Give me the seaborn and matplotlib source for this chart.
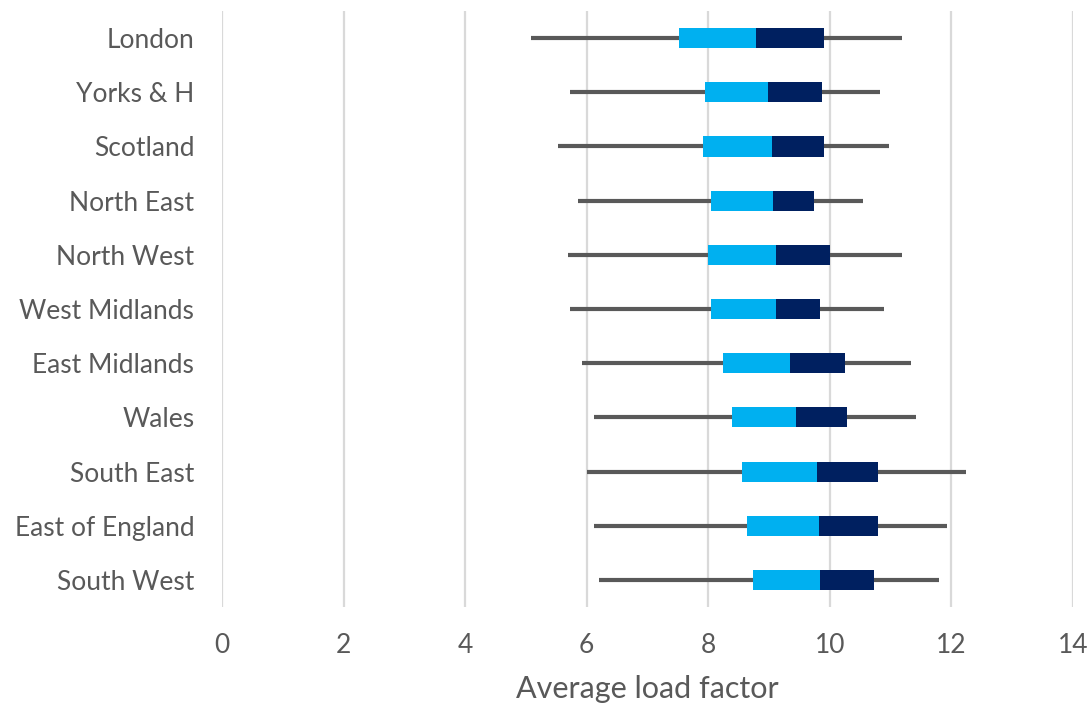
import matplotlib
matplotlib.use("Agg")
import matplotlib.pyplot as plt
import seaborn as sns
import pandas as pd

# Valeurs
regions = [
    "London", "Yorks & H", "Scotland", "North East", "North West",
    "West Midlands", "East Midlands", "Wales", "South East",
    "East of England", "South West",
]
whisker_low = [5.08, 5.73, 5.53, 5.86, 5.69, 5.73, 5.92, 6.12, 6.01, 6.12, 6.21]
q1 = [7.51, 7.95, 7.92, 8.05, 8.00, 8.05, 8.24, 8.39, 8.55, 8.63, 8.73]
median = [8.78, 8.99, 9.04, 9.07, 9.12, 9.12, 9.35, 9.45, 9.79, 9.82, 9.84]
q3 = [9.90, 9.87, 9.90, 9.74, 10.00, 9.84, 10.25, 10.28, 10.80, 10.80, 10.72]
whisker_high = [11.18, 10.82, 10.97, 10.55, 11.18, 10.89, 11.33, 11.41, 12.24, 11.92, 11.80]

df = pd.DataFrame({
    "region": regions, "low": whisker_low, "q1": q1,
    "median": median, "q3": q3, "high": whisker_high,
})

sns.set_theme(style="whitegrid")
plt.rcParams["font.family"] = ["Lato", "DejaVu Sans"]

fig = plt.figure(figsize=(10.92, 7.07), dpi=100)
ax = fig.add_axes([0.2033, 0.1414, 0.7793, 0.843])

pos = list(range(len(df)))
ax.hlines(pos, df["low"], df["high"], color="#595959", linewidth=3, zorder=2)
ax.barh(pos, df["median"] - df["q1"], left=df["q1"], height=0.37,
        color="#00B0F0", linewidth=0, zorder=3)
ax.barh(pos, df["q3"] - df["median"], left=df["median"], height=0.37,
        color="#002060", linewidth=0, zorder=3)

ax.set_yticks(pos)
ax.set_yticklabels(df["region"])
ax.set_ylim(len(df) - 0.5, -0.5)
ax.set_xlim(0, 14)
ax.set_xticks(range(0, 15, 2))

ax.grid(axis="y", visible=False)
ax.grid(axis="x", color="#d9d9d9", linewidth=1.6)
for s in ax.spines.values():
    s.set_visible(False)

ax.tick_params(axis="x", pad=19, labelsize=19, labelcolor="#595959", length=0)
ax.tick_params(axis="y", pad=20, labelsize=19, labelcolor="#595959", length=0)
ax.set_xlabel("Average load factor", fontsize=22, color="#595959", labelpad=12)

fig.savefig("out.png", dpi=100)
